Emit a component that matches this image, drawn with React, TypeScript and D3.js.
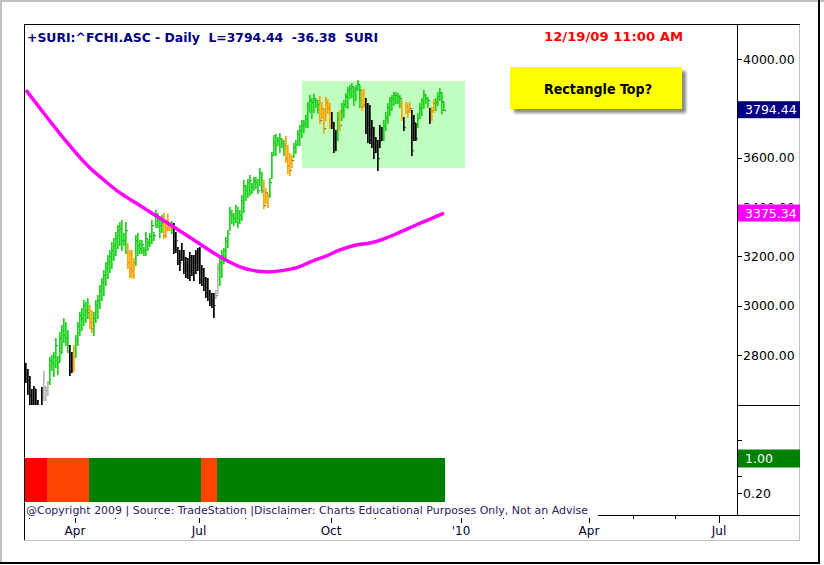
import React from "react";
import * as d3 from "d3";

// ---------- DATA ----------
const highs = [
  2768,2744,2715,2663,2675,2663,2618,2590,2671,2735,
  2675,2695,2792,2800,2812,2869,2796,2893,2922,2950,
  2934,2901,2841,2812,2841,2881,2934,2975,2991,3023,
  3015,3031,3003,2983,2975,3023,3043,3084,3112,3145,
  3177,3206,3226,3258,3275,3299,3327,3339,3347,3295,
  3339,3254,3226,3226,3194,3287,3295,3266,3266,3238,
  3299,3271,3295,3347,3299,3388,3376,3356,3368,3376,
  3347,3372,3339,3343,3335,3299,3238,3226,3254,3226,
  3198,3194,3218,3206,3206,3226,3234,3238,3165,3153,
  3116,3112,3064,3052,3052,3064,3173,3194,3226,3234,
  3279,3307,3400,3388,3376,3408,3400,3388,3449,3510,
  3489,3514,3530,3497,3522,3522,3514,3558,3542,3510,
  3477,3457,3518,3623,3692,3696,3684,3700,3680,3672,
  3688,3651,3619,3611,3659,3672,3712,3732,3753,3753,
  3773,3826,3854,3842,3858,3842,3834,3850,3826,3801,
  3846,3838,3822,3785,3745,3712,3785,3793,3822,3834,
  3862,3886,3895,3903,3886,3895,3915,3895,3878,3878,
  3842,3822,3814,3753,3724,3684,3672,3732,3724,3753,
  3785,3822,3846,3854,3866,3866,3862,3854,3834,3765,
  3826,3822,3826,3793,3773,3741,3781,3822,3842,3874,
  3854,3846,3801,3805,3838,3842,3866,3882,3866,3826,
];
const lows = [
  2691,2642,2597,2577,2577,2557,2537,2516,2569,2618,
  2618,2638,2683,2739,2715,2752,2723,2776,2808,2853,
  2841,2812,2719,2731,2735,2792,2841,2881,2901,2922,
  2934,2950,2910,2893,2881,2934,2950,2991,3023,3043,
  3084,3112,3137,3153,3185,3206,3234,3246,3226,3246,
  3214,3153,3116,3116,3112,3165,3206,3214,3214,3206,
  3206,3226,3242,3254,3266,3319,3319,3279,3299,3275,
  3279,3307,3307,3295,3214,3218,3169,3145,3185,3133,
  3116,3112,3104,3124,3104,3133,3145,3092,3084,3064,
  3035,3023,3003,2995,2954,3031,3052,3084,3116,3173,
  3198,3238,3307,3335,3327,3339,3319,3335,3347,3380,
  3428,3441,3449,3457,3469,3477,3457,3489,3461,3396,
  3416,3400,3441,3518,3611,3611,3651,3623,3643,3611,
  3582,3538,3530,3562,3603,3619,3651,3651,3684,3704,
  3724,3724,3785,3761,3785,3805,3781,3741,3761,3700,
  3753,3781,3720,3720,3623,3631,3672,3712,3753,3765,
  3805,3801,3842,3846,3814,3834,3874,3805,3793,3805,
  3700,3663,3659,3643,3599,3623,3550,3643,3672,3672,
  3712,3741,3773,3793,3814,3822,3822,3805,3753,3712,
  3781,3765,3785,3611,3672,3672,3724,3761,3773,3801,
  3822,3805,3741,3753,3785,3793,3814,3834,3781,3793,
];
const closes = [
  2719,2699,2638,2618,2667,2597,2569,2557,2658,2671,
  2658,2691,2780,2772,2796,2841,2772,2869,2901,2881,
  2869,2841,2731,2748,2829,2861,2918,2962,2950,3003,
  2983,2975,2934,2910,2950,3003,3023,3064,3096,3124,
  3153,3177,3202,3226,3246,3275,3307,3315,3266,3266,
  3307,3177,3153,3145,3177,3266,3246,3234,3250,3226,
  3275,3258,3283,3327,3287,3368,3356,3327,3339,3287,
  3315,3323,3323,3315,3226,3266,3194,3177,3226,3153,
  3145,3161,3124,3177,3177,3206,3218,3112,3145,3084,
  3056,3043,3031,3023,3003,3043,3153,3177,3206,3226,
  3266,3295,3380,3368,3356,3388,3380,3368,3428,3489,
  3469,3502,3510,3481,3510,3502,3469,3542,3469,3408,
  3461,3449,3502,3611,3663,3651,3672,3680,3659,3651,
  3599,3570,3550,3591,3643,3655,3696,3712,3732,3741,
  3761,3814,3834,3826,3842,3834,3818,3753,3801,3720,
  3826,3801,3732,3745,3631,3680,3761,3732,3793,3818,
  3850,3874,3882,3890,3874,3882,3899,3874,3809,3818,
  3712,3745,3672,3655,3623,3672,3599,3672,3704,3732,
  3765,3805,3834,3842,3854,3854,3850,3842,3761,3724,
  3809,3793,3801,3631,3745,3680,3761,3801,3834,3858,
  3842,3834,3761,3793,3822,3826,3850,3866,3831,3794.44,
];
// bar colour runs: k=black, s=silver, g=green, o=orange
const barColorRuns: [string, number][] = [
  ["k",9],["s",3],["g",10],["k",2],["o",1],["g",7],["o",2],["g",17],["o",4],["g",14],
  ["o",4],["g",1],["k",21],["s",2],["g",22],["o",3],["g",8],["o",4],["g",13],["o",6],
  ["k",3],["g",1],["o",1],["g",10],["o",2],["k",9],["g",9],["o",1],["k",1],["o",3],
  ["k",3],["g",6],["k",1],["o",2],["g",5],
];
// lower indicator state runs
const indicatorRuns: [string, number][] = [
  ["red",11],["orangered",21],["green",56],["orangered",8],["green",114],
];
const indicatorValue = 1;
// moving average (bar index, value)
const maIndex = [0,10,20,31,40,47,55,62,70,77,87,97,107,112,120,127,135,142,150,157,165,172,180,187,195,202,209];
const maValues = [3874,3769,3667,3566,3502,3457,3416,3380,3339,3303,3250,3198,3157,3145,3137,3141,3153,3177,3201,3226,3246,3254,3274,3298,3327,3351,3375.34];

const priceTicks = [2800, 3000, 3200, 3400, 3600, 3800, 4000];
const indicatorTicks = [0.2, 0.6, 1.0, 1.4];
const monthTicks: { idx: number; label: string }[] = [
  { idx: 2, label: "" }, { idx: 25, label: "Apr" }, { idx: 45, label: "" }, { idx: 65, label: "" },
  { idx: 87, label: "Jul" }, { idx: 110, label: "" }, { idx: 131, label: "" }, { idx: 153, label: "Oct" },
  { idx: 175, label: "" }, { idx: 196, label: "" }, { idx: 218, label: "'10" }, { idx: 239, label: "" },
  { idx: 259, label: "" }, { idx: 282, label: "Apr" }, { idx: 304, label: "" }, { idx: 325, label: "" },
  { idx: 347, label: "Jul" },
];
// annotation rectangle (bar index range & price range)
const rectZone = { startIdx: 138, endIdx: 219.5, top: 3911, bottom: 3558 };

const lastPrice = 3794.44;
const lastMA = 3375.34;
const titleText = "+SURI:^FCHI.ASC - Daily  L=3794.44  -36.38  SURI";
const dateText = "12/19/09 11:00 AM";
const noteText = "Rectangle Top?";
const copyrightText = "@Copyright 2009 | Source: TradeStation |Disclaimer: Charts Educational Purposes Only, Not an Advise";

const barPalette: Record<string, string> = { k: "#000000", s: "#b8b8b8", g: "#1ed41e", o: "#ffa500" };
const indPalette: Record<string, string> = { red: "#ff0000", orangered: "#ff4500", green: "#008000" };

function expand(runs: [string, number][]) {
  const out: string[] = [];
  runs.forEach(([c, n]) => { for (let k = 0; k < n; k++) out.push(c); });
  return out;
}

export default function App() {
  const x = d3.scaleLinear().domain([0, 350]).range([26, 726]);
  const y = d3.scaleLinear().domain([2800, 4000]).range([355, 59]);
  const yi = d3.scaleLinear().domain([0, 1]).range([502, 458]);
  const colors = expand(barColorRuns);
  const indStates = expand(indicatorRuns);
  const fontAxis = "'DejaVu Sans', Verdana, sans-serif";

  const maLine = d3
    .line<number>()
    .x((_, i) => x(maIndex[i]))
    .y((v) => y(v))
    .curve(d3.curveCatmullRom.alpha(0.5));

  const axisX = 737;

  return (
    <svg width={824} height={565} style={{ position: "absolute", left: 0, top: 0, background: "#fff" }}>
      <defs>
        <clipPath id="pricePanel">
          <rect x={25} y={25} width={axisX - 25} height={405 - 25} />
        </clipPath>
        <clipPath id="label3400">
          <rect x={axisX} y={25} width={70} height={y(lastMA) - 8.5 - 25} />
        </clipPath>
        <filter id="shadow" x="-10%" y="-10%" width="130%" height="140%">
          <feGaussianBlur stdDeviation="1.5" />
        </filter>
      </defs>
      <rect x={0} y={0} width={824} height={565} fill="#ffffff" />
      {/* window frame */}
      <rect x={0} y={0} width={824} height={2} fill="#c0c0c0" />
      <rect x={0} y={0} width={2} height={564} fill="#c0c0c0" />
      <rect x={818} y={0} width={2} height={564} fill="#000" />
      <rect x={0} y={562} width={820} height={2} fill="#000" />

      {/* chart frame */}
      <line x1={24} x2={800} y1={24.5} y2={24.5} stroke="#000" />
      <line x1={24.5} x2={24.5} y1={24} y2={541} stroke="#000" />
      <line x1={799.5} x2={799.5} y1={25} y2={541} stroke="#c0c0c0" />
      <line x1={24} x2={800} y1={540.5} y2={540.5} stroke="#c0c0c0" />

      {/* price panel */}
      <g clipPath="url(#pricePanel)">
        <rect
          x={x(rectZone.startIdx)}
          y={y(rectZone.top)}
          width={x(rectZone.endIdx) - x(rectZone.startIdx)}
          height={y(rectZone.bottom) - y(rectZone.top)}
          fill="#c1ffc1"
        />
        {highs.map((h, i) => {
          const cx = x(i);
          const top = Math.round(y(h));
          const bot = Math.round(y(lows[i]));
          return (
            <g key={i}>
              <rect x={cx - 1} y={top} width={1.7} height={Math.max(1, bot - top + 1)} fill={barPalette[colors[i]]} />
              <rect x={cx + 0.7} y={Math.round(y(closes[i]))} width={0.9} height={1.2} fill="#000030" />
            </g>
          );
        })}
        <path d={maLine(maValues) || ""} fill="none" stroke="#ff00ff" strokeWidth={3.5} />
      </g>

      {/* title texts */}
      <text x={27} y={42} fontFamily={fontAxis} fontWeight="bold" fontSize={12.5} fill="#000080"
        textLength={351} lengthAdjust="spacingAndGlyphs" style={{ whiteSpace: "pre" }}>
        {titleText}
      </text>
      <text x={544} y={41} fontFamily={fontAxis} fontWeight="bold" fontSize={12.5} fill="#ff0000"
        textLength={139} lengthAdjust="spacingAndGlyphs">
        {dateText}
      </text>

      {/* note box */}
      <rect x={514} y={71} width={172} height={42} fill="#8a8a8a" filter="url(#shadow)" />
      <rect x={510} y={67} width={172} height={42} fill="#ffff00" />
      <text x={544} y={94} fontFamily={fontAxis} fontWeight="bold" fontSize={14} fill="#000"
        textLength={108} lengthAdjust="spacingAndGlyphs">
        {noteText}
      </text>

      {/* price axis */}
      <line x1={axisX + 0.5} x2={axisX + 0.5} y1={24} y2={516} stroke="#000" />
      <line x1={axisX} x2={800} y1={405.5} y2={405.5} stroke="#000" />
      {priceTicks.map((p) => {
        const hiddenByLast = Math.abs(y(p) - y(lastPrice)) < 9;
        const partlyHidden = Math.abs(y(p) - y(lastMA)) < 9;
        return (
          <g key={p}>
            <line x1={axisX} x2={axisX + 5} y1={Math.round(y(p)) + 0.5} y2={Math.round(y(p)) + 0.5} stroke="#000" />
            {!hiddenByLast && (
              <text x={axisX + 6} y={y(p) + 4.5} fontFamily={fontAxis} fontSize={12.5} fill="#000"
                clipPath={partlyHidden ? "url(#label3400)" : undefined}>
                {d3.format(".2f")(p)}
              </text>
            )}
          </g>
        );
      })}
      <rect x={axisX + 1} y={y(lastPrice) - 8.5} width={62} height={17} fill="#000080" />
      <text x={axisX + 8} y={y(lastPrice) + 4.5} fontFamily={fontAxis} fontSize={12.5} fill="#fff">
        {d3.format(".2f")(lastPrice)}
      </text>
      <rect x={axisX + 1} y={y(lastMA) - 8.5} width={62} height={17} fill="#ff00ff" />
      <text x={axisX + 8} y={y(lastMA) + 4.5} fontFamily={fontAxis} fontSize={12.5} fill="#fff">
        {d3.format(".2f")(lastMA)}
      </text>

      {/* indicator panel */}
      {indStates.map((s, i) => (
        <rect key={i} x={x(i) - 1} y={yi(indicatorValue)} width={2.05} height={yi(0) - yi(indicatorValue)} fill={indPalette[s]} />
      ))}
      {indicatorTicks.map((v) => (
        <g key={v}>
          <line x1={axisX} x2={axisX + 5} y1={Math.round(yi(v)) + 0.5} y2={Math.round(yi(v)) + 0.5} stroke="#000" />
          {v === 0.2 && (
            <text x={axisX + 6} y={yi(v) + 4.5} fontFamily={fontAxis} fontSize={12.5} fill="#000">
              {d3.format(".2f")(v)}
            </text>
          )}
        </g>
      ))}
      <rect x={axisX + 1} y={yi(indicatorValue) - 8.5} width={62} height={18} fill="#008000" />
      <text x={axisX + 8} y={yi(indicatorValue) + 5} fontFamily={fontAxis} fontSize={12.5} fill="#fff">
        {d3.format(".2f")(indicatorValue)}
      </text>

      {/* date axis */}
      <line x1={24} x2={800} y1={515.5} y2={515.5} stroke="#000" />
      {monthTicks.map((t) => (
        <g key={t.idx}>
          <line x1={Math.round(x(t.idx)) - 0.5} x2={Math.round(x(t.idx)) - 0.5} y1={515} y2={t.label ? 523 : 519} stroke="#000" />
          {t.label && (
            <text x={x(t.idx) - 1} y={535} textAnchor="middle" fontFamily={fontAxis} fontSize={12} fill="#000030">
              {t.label}
            </text>
          )}
        </g>
      ))}
      <rect x={25} y={503} width={573} height={15} fill="#fff" />
      <text x={26} y={514} fontFamily={fontAxis} fontSize={11} fill="#2a2060"
        textLength={562} lengthAdjust="spacingAndGlyphs">
        {copyrightText}
      </text>
    </svg>
  );
}
